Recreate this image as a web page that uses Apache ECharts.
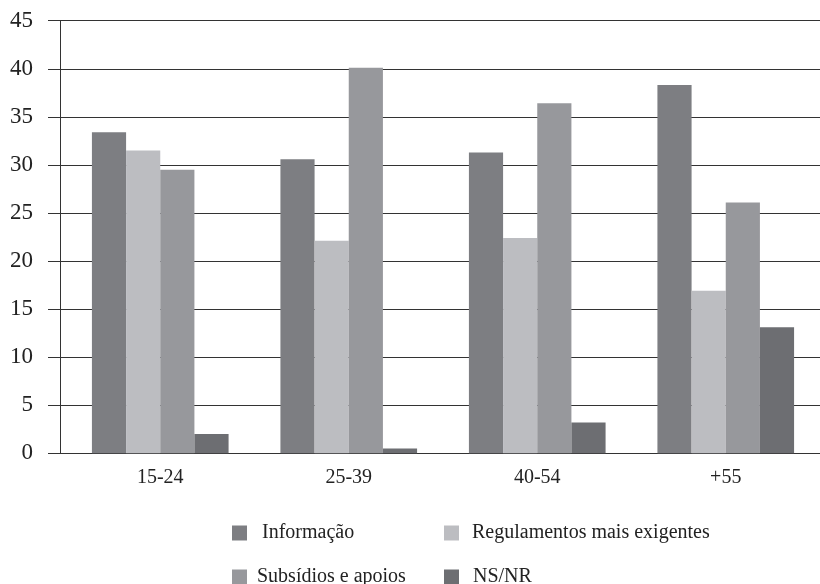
<!DOCTYPE html>
<html>
<head>
<meta charset="utf-8">
<script src="https://cdn.jsdelivr.net/npm/echarts@6/dist/echarts.min.js"></script>
<style>html,body{margin:0;padding:0;background:#fff}#c{width:820px;height:584px}</style>
</head>
<body>
<div id="c"></div>
<script>
var categories = ['15-24', '25-39', '40-54', '+55'];
var informacao = [33.4, 30.6, 31.3, 38.3];
var regulamentos = [31.5, 22.1, 22.4, 16.9];
var subsidios = [29.5, 40.1, 36.4, 26.1];
var nsnr = [2.0, 0.5, 3.2, 13.1];
var seriesNames = ['Informação', 'Regulamentos mais exigentes', 'Subsídios e apoios', 'NS/NR'];
var seriesColors = ['#7d7e82', '#bcbdc1', '#97989c', '#6d6e72'];
var yMin = 0, yMax = 45, yInterval = 5;

var font = '"Liberation Serif", "DejaVu Serif", serif';
var chart = echarts.init(document.getElementById('c'), null, {renderer: 'canvas'});
var dataSets = [informacao, regulamentos, subsidios, nsnr];

var legendPos = [[232, 523], [444, 523], [232, 567], [444, 567]];
var legendPad = [10, 8, 5, 9];
var legends = seriesNames.map(function (n, i) {
  return {
    data: [n], left: legendPos[i][0], top: legendPos[i][1], padding: 0,
    icon: 'rect', itemWidth: 15, itemHeight: 15, itemGap: 0,
    selectedMode: false,
    textStyle: {fontFamily: font, fontSize: 20, color: '#222', padding: [0, 0, 0, legendPad[i]]}
  };
});

chart.setOption({
  animation: false,
  backgroundColor: '#fff',
  legend: legends,
  grid: [
    {left: 60, top: 20.7, width: 760, height: 432.6},
    {left: 66, top: 20.7, width: 756, height: 432.6}
  ],
  xAxis: [
    {
      type: 'category', gridIndex: 0, data: categories,
      axisLine: {show: true, lineStyle: {color: '#333', width: 1}},
      axisTick: {show: false},
      axisLabel: {show: false}
    },
    {
      type: 'category', gridIndex: 1, data: categories,
      axisLine: {show: false}, axisTick: {show: false},
      axisLabel: {fontFamily: font, fontSize: 20, color: '#222', margin: 14}
    }
  ],
  yAxis: [
    {
      type: 'value', gridIndex: 0, min: yMin, max: yMax, interval: yInterval,
      axisLine: {show: true, lineStyle: {color: '#333', width: 1}},
      axisTick: {show: true, length: 12, lineStyle: {color: '#333', width: 1}},
      splitLine: {show: true, lineStyle: {color: '#333', width: 1}},
      axisLabel: {fontFamily: font, fontSize: 23, color: '#222', margin: 27}
    },
    {
      type: 'value', gridIndex: 1, min: yMin, max: yMax, interval: yInterval,
      axisLine: {show: false}, axisTick: {show: false}, splitLine: {show: false},
      axisLabel: {show: false}
    }
  ],
  series: seriesNames.map(function (n, i) {
    return {
      name: n, type: 'bar', xAxisIndex: 1, yAxisIndex: 1,
      data: dataSets[i], barGap: '0%', barCategoryGap: '27.5%',
      itemStyle: {color: seriesColors[i]}
    };
  })
});
</script>
</body>
</html>
